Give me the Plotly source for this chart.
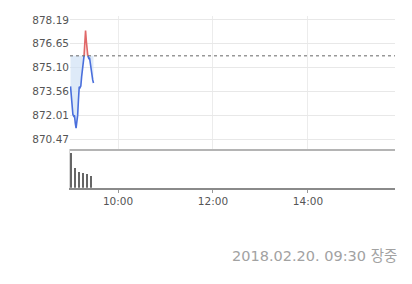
import numpy as np
import pandas as pd
import plotly.graph_objects as go

# ---------------- data ----------------
times = pd.date_range("2018-02-20 09:00", periods=30, freq="min")
price = [873.88, 873.00, 872.10, 872.05, 871.95, 872.00, 871.50, 871.18, 871.60, 872.00,
         873.00, 873.85, 873.80, 873.90, 874.50, 875.10, 875.40, 875.80, 876.50, 877.50,
         876.80, 876.20, 875.80, 875.70, 875.75, 875.30, 874.90, 874.60, 874.30, 874.10]
prev_close = 875.86

vol_times = pd.to_datetime(["2018-02-20 09:01", "2018-02-20 09:06", "2018-02-20 09:11",
                            "2018-02-20 09:16", "2018-02-20 09:21", "2018-02-20 09:26"])
volume = [350, 200, 160, 150, 140, 120]

y_ticks = [870.47, 872.01, 873.56, 875.10, 876.65, 878.19]
x_tick_vals = pd.to_datetime(["2018-02-20 10:00", "2018-02-20 12:00", "2018-02-20 14:00"])
x_tick_text = ["10:00", "12:00", "14:00"]
stamp_text = "2018.02.20. 09:30 장중"

# ---------------- derived: insert crossings with previous close ----------------
t = times.astype("int64").to_numpy().astype(float)
p = np.array(price, dtype=float)
xs, ys = [t[0]], [p[0]]
for i in range(len(p) - 1):
    a, b = p[i] - prev_close, p[i + 1] - prev_close
    if a * b < 0:
        f = a / (a - b)
        xs.append(t[i] + f * (t[i + 1] - t[i]))
        ys.append(prev_close)
    xs.append(t[i + 1])
    ys.append(p[i + 1])
xs = pd.to_datetime(np.array(xs).astype("int64"))
ys = np.array(ys)
blue_y = np.where(ys <= prev_close + 1e-9, ys, np.nan)
red_y = np.where(ys >= prev_close - 1e-9, ys, np.nan)
base_y = np.full(len(ys), prev_close)

W, H = 412, 284
px_left, px_right = 70, 395
top_px, mid_px, bot_px = 14, 148, 187

fig = go.Figure()
# fills
fig.add_trace(go.Scatter(x=xs, y=base_y, mode="lines", line=dict(width=0), hoverinfo="skip",
                         showlegend=False, xaxis="x", yaxis="y"))
fig.add_trace(go.Scatter(x=xs, y=np.minimum(ys, prev_close), mode="lines", line=dict(width=0),
                         fill="tonexty", fillcolor="rgba(205,222,245,0.65)", showlegend=False,
                         xaxis="x", yaxis="y"))
fig.add_trace(go.Scatter(x=xs, y=base_y, mode="lines", line=dict(width=0), hoverinfo="skip",
                         showlegend=False, xaxis="x", yaxis="y"))
fig.add_trace(go.Scatter(x=xs, y=np.maximum(ys, prev_close), mode="lines", line=dict(width=0),
                         fill="tonexty", fillcolor="rgba(248,215,215,0.6)", showlegend=False,
                         xaxis="x", yaxis="y"))
# lines
fig.add_trace(go.Scatter(x=xs, y=blue_y, mode="lines", line=dict(color="#4a6fdc", width=1.6),
                         connectgaps=False, showlegend=False, xaxis="x", yaxis="y"))
fig.add_trace(go.Scatter(x=xs, y=red_y, mode="lines", line=dict(color="#e06868", width=1.6),
                         connectgaps=False, showlegend=False, xaxis="x", yaxis="y"))
# volume
fig.add_trace(go.Bar(x=vol_times, y=volume, width=60000, marker=dict(color="#666666", line=dict(width=0)),
                     showlegend=False, xaxis="x2", yaxis="y2"))

x_range = ["2018-02-20 08:59:20", "2018-02-20 15:50"]
ppx = (878.19 - 870.47) / 120.0
y_range = [870.47 - (mid_px - 138) * ppx, 878.19 + (18 - top_px) * ppx]

fig.update_layout(
    width=W, height=H,
    margin=dict(l=0, r=0, t=0, b=0),
    paper_bgcolor="white", plot_bgcolor="white",
    bargap=0,
    xaxis=dict(domain=[px_left / W, px_right / W], range=x_range, type="date",
               tickvals=x_tick_vals, ticktext=x_tick_text, showticklabels=False,
               showgrid=True, gridcolor="#ececec", gridwidth=1, zeroline=False,
               showline=True, linecolor="#b4b4b4", linewidth=2, anchor="y"),
    yaxis=dict(domain=[1 - mid_px / H, 1 - top_px / H], range=y_range,
               tickvals=y_ticks, ticktext=[f"{v:.2f}" for v in y_ticks],
               tickfont=dict(family="DejaVu Sans", size=10.5, color="#555555"),
               showgrid=True, gridcolor="#e8e8e8", gridwidth=1, zeroline=False,
               showline=False, anchor="x"),
    xaxis2=dict(domain=[px_left / W, px_right / W], range=x_range, type="date",
                tickvals=x_tick_vals, ticktext=x_tick_text, ticks="outside", ticklen=3,
                tickcolor="#999999", tickfont=dict(family="DejaVu Sans", size=10.5, color="#555555"),
                showgrid=False, zeroline=False, showline=True, linecolor="#8a8a8a", linewidth=2,
                anchor="y2"),
    yaxis2=dict(domain=[1 - bot_px / H, 1 - mid_px / H], range=[0, 390],
                showticklabels=False, showgrid=False, zeroline=False,
                showline=True, linecolor="#d8d8d8", linewidth=1, anchor="x2"),
    shapes=[dict(type="line", xref="x domain", yref="y", x0=0, x1=1, y0=prev_close, y1=prev_close,
                 line=dict(color="#666666", width=1, dash="dot"))],
    annotations=[dict(text=stamp_text, xref="paper", yref="paper", x=399 / W, y=1 - 256 / H,
                      xanchor="right", yanchor="middle", showarrow=False,
                      font=dict(family="DejaVu Sans, Noto Sans CJK KR", size=14.5, color="#a2a2a2"))],
)

fig.write_html("out.html")
